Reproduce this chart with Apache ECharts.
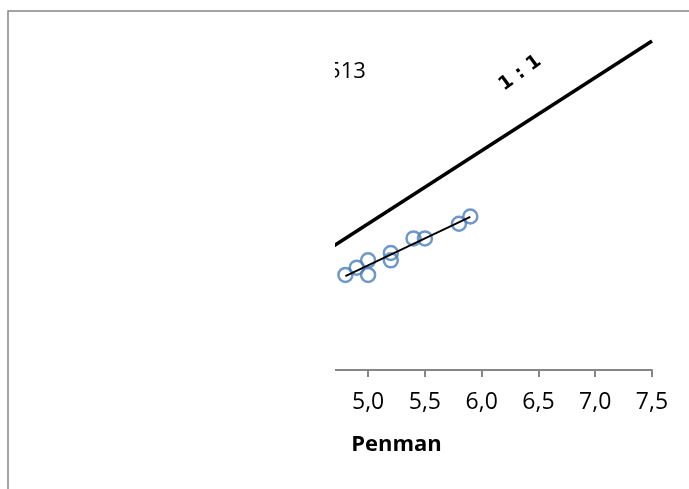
<!DOCTYPE html>
<html>
<head>
<meta charset="utf-8">
<script src="https://cdn.jsdelivr.net/npm/echarts@6/dist/echarts.min.js"></script>
<style>
  html, body { margin: 0; padding: 0; background: #ffffff; }
  #chart { width: 689px; height: 489px; }
</style>
</head>
<body>
<div id="chart"></div>
<script>
// Penman reference values (x) against the compared method (y)
const penmanX = [4.8, 4.9, 5.0, 5.0, 5.2, 5.2, 5.4, 5.5, 5.8, 5.9];
const methodY = [4.3, 4.4, 4.5, 4.3, 4.6, 4.5, 4.8, 4.8, 5.0, 5.1];

// 1:1 reference line end points
const oneToOneX = [3.0, 7.5];
const oneToOneY = [3.0, 7.5];

// axis range and tick step
const axisMin = 3.0;
const axisMax = 7.5;
const axisStep = 0.5;

const xAxisName = 'Penman';
const oneToOneLabel = '1 : 1';
const fitLabel = 'R² = 0,9513';

// least-squares trend line through the points
const n = penmanX.length;
const mx = penmanX.reduce((a, b) => a + b, 0) / n;
const my = methodY.reduce((a, b) => a + b, 0) / n;
let sxy = 0, sxx = 0;
for (let i = 0; i < n; i++) {
  sxy += (penmanX[i] - mx) * (methodY[i] - my);
  sxx += (penmanX[i] - mx) * (penmanX[i] - mx);
}
const slope = sxy / sxx;
const intercept = my - slope * mx;
const xLo = Math.min(...penmanX), xHi = Math.max(...penmanX);
const trend = [[xLo, intercept + slope * xLo], [xHi, intercept + slope * xHi]];

const points = penmanX.map((x, i) => [x, methodY[i]]);
const diag = oneToOneX.map((x, i) => [x, oneToOneY[i]]);

const FONT = '"Open Sans", sans-serif';

const chart = echarts.init(document.getElementById('chart'), null, { renderer: 'canvas' });

const option = {
  animation: false,
  backgroundColor: '#ffffff',
  grid: { left: 141, right: 37, top: 41, bottom: 119, containLabel: false },
  xAxis: {
    type: 'value',
    min: axisMin, max: axisMax, interval: axisStep,
    name: xAxisName,
    nameLocation: 'middle',
    nameGap: 64,
    nameTextStyle: { fontFamily: FONT, fontSize: 22, fontWeight: 'bold', color: '#000000' },
    axisLine: { show: true, lineStyle: { color: '#868686', width: 2 } },
    axisTick: { show: true, length: 7, lineStyle: { color: '#868686', width: 2 } },
    axisLabel: {
      margin: 21,
      fontFamily: FONT, fontSize: 23, color: '#000000',
      formatter: v => v.toFixed(1).replace('.', ',')
    },
    splitLine: { show: false }
  },
  yAxis: {
    type: 'value',
    min: axisMin, max: axisMax, interval: axisStep,
    axisLine: { show: false },
    axisTick: { show: false },
    axisLabel: { show: false },
    splitLine: { show: false }
  },
  series: [
    {
      name: '1:1',
      type: 'line',
      data: diag,
      symbol: 'none',
      lineStyle: { color: '#000000', width: 3.5 },
      z: 2
    },
    {
      name: 'points',
      type: 'scatter',
      data: points,
      symbol: 'circle',
      symbolSize: 14,
      itemStyle: { color: 'rgba(0,0,0,0)', borderColor: '#4A7EBB', borderWidth: 2.5 },
      z: 3
    },
    {
      name: 'trend',
      type: 'line',
      data: trend,
      symbol: 'none',
      lineStyle: { color: '#000000', width: 1.8 },
      z: 4
    }
  ]
};
chart.setOption(option);

// labels placed from data coordinates, then the frame and the blank panel on the left
const labelPos = chart.convertToPixel({ gridIndex: 0 }, [6.34, 7.06]);
const fitPos = chart.convertToPixel({ gridIndex: 0 }, [4.98, 7.08]);

chart.setOption({
  graphic: [
    {
      type: 'text',
      x: labelPos[0], y: labelPos[1],
      rotation: 36 * Math.PI / 180,
      style: {
        text: oneToOneLabel, fill: '#000000',
        font: 'bold 19px "DejaVu Sans", sans-serif',
        align: 'center', verticalAlign: 'middle'
      },
      z: 50
    },
    {
      type: 'text',
      x: fitPos[0], y: fitPos[1],
      style: {
        text: fitLabel, fill: '#000000',
        font: '22px "Open Sans", sans-serif',
        align: 'right', verticalAlign: 'middle'
      },
      z: 50
    },
    {
      type: 'rect',
      shape: { x: 9, y: 12, width: 326, height: 480 },
      style: { fill: '#ffffff' },
      z: 100
    },
    {
      type: 'rect',
      shape: { x: 8, y: 11, width: 800, height: 600 },
      style: { fill: 'none', stroke: '#868686', lineWidth: 1.5 },
      z: 101
    }
  ]
});
</script>
</body>
</html>
